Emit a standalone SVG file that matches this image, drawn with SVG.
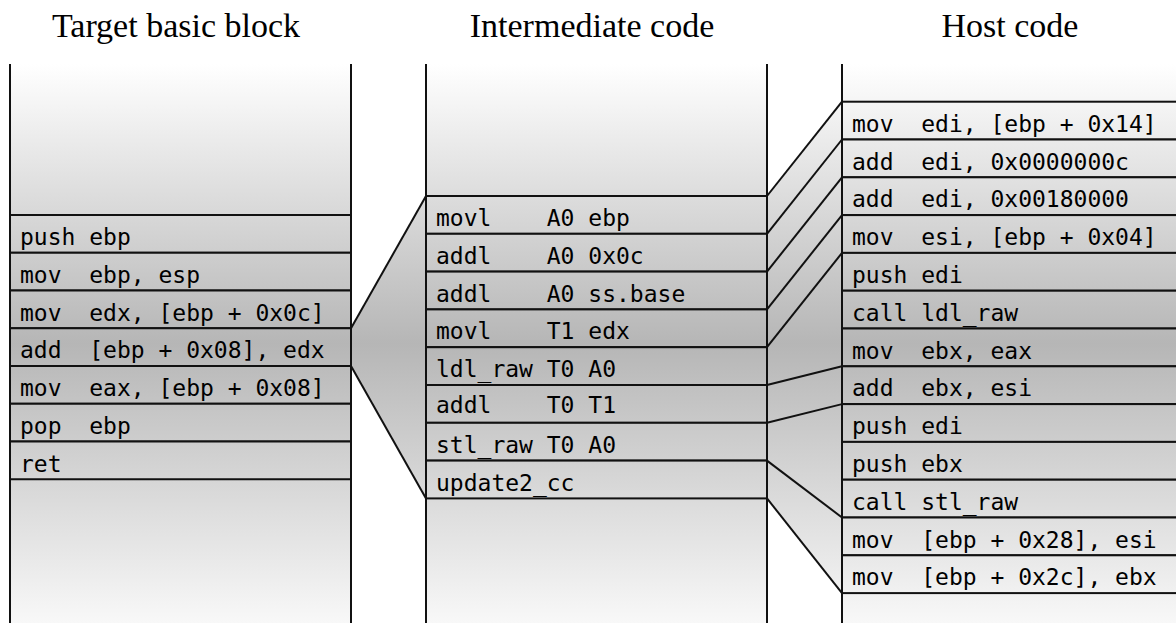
<svg xmlns="http://www.w3.org/2000/svg" width="1176" height="623" viewBox="0 0 1176 623">
<defs>
<linearGradient id="g" gradientUnits="userSpaceOnUse" x1="0" y1="64" x2="0" y2="623">
<stop offset="0" stop-color="#ffffff"/>
<stop offset="0.5" stop-color="#b6b6b6"/>
<stop offset="1" stop-color="#f8f8f8"/>
</linearGradient>
</defs>
<style>
.hdr{font-family:"Liberation Serif","DejaVu Serif",serif;font-size:34px;fill:#000;text-anchor:middle}
.code{font-family:"DejaVu Sans Mono","Liberation Mono",monospace;font-size:23px;fill:#000;white-space:pre}
.row{fill:url(#g);stroke:#111;stroke-width:2}
.col{fill:url(#g);stroke:none}
.vl{stroke:#111;stroke-width:2;fill:none}
.cn{stroke:#111;stroke-width:2;fill:none}
.reg{fill:url(#g);stroke:none}
</style>
<rect width="1176" height="623" fill="#ffffff"/>
<text class="hdr" x="176" y="37">Target basic block</text>
<text class="hdr" x="592" y="37">Intermediate code</text>
<text class="hdr" x="1010" y="37">Host code</text>

<g id="connectors">
<polygon class="reg" points="351,328.25 426,196 426,498.4 351,366"/>
<polygon class="reg" points="767,196 842,101.7 842,593.1 767,498.4"/>
<line class="cn" x1="351" y1="328.25" x2="426" y2="196"/>
<line class="cn" x1="351" y1="366" x2="426" y2="498.4"/>
<line class="cn" x1="767" y1="196" x2="842" y2="101.7"/>
<line class="cn" x1="767" y1="233.8" x2="842" y2="139.5"/>
<line class="cn" x1="767" y1="271.6" x2="842" y2="177.3"/>
<line class="cn" x1="767" y1="309.4" x2="842" y2="215.1"/>
<line class="cn" x1="767" y1="347.2" x2="842" y2="252.9"/>
<line class="cn" x1="767" y1="385" x2="842" y2="366.3"/>
<line class="cn" x1="767" y1="422.8" x2="842" y2="404.1"/>
<line class="cn" x1="767" y1="460.6" x2="842" y2="517.5"/>
<line class="cn" x1="767" y1="498.4" x2="842" y2="593.1"/>
</g>

<g id="target">
<rect class="col" x="10" y="64" width="341" height="559"/>
<g id="t1"><rect class="row" x="10" y="215" width="341" height="37.75"/><text class="code" x="20" y="245" xml:space="preserve">push ebp</text></g>
<g id="t2"><rect class="row" x="10" y="252.75" width="341" height="37.75"/><text class="code" x="20" y="282.75" xml:space="preserve">mov  ebp, esp</text></g>
<g id="t3"><rect class="row" x="10" y="290.5" width="341" height="37.75"/><text class="code" x="20" y="320.5" xml:space="preserve">mov  edx, [ebp + 0x0c]</text></g>
<g id="t4"><rect class="row" x="10" y="328.25" width="341" height="37.75"/><text class="code" x="20" y="358.25" xml:space="preserve">add  [ebp + 0x08], edx</text></g>
<g id="t5"><rect class="row" x="10" y="366" width="341" height="37.75"/><text class="code" x="20" y="396" xml:space="preserve">mov  eax, [ebp + 0x08]</text></g>
<g id="t6"><rect class="row" x="10" y="403.75" width="341" height="37.75"/><text class="code" x="20" y="433.75" xml:space="preserve">pop  ebp</text></g>
<g id="t7"><rect class="row" x="10" y="441.5" width="341" height="37.75"/><text class="code" x="20" y="471.5" xml:space="preserve">ret</text></g>
<line class="vl" x1="10" y1="64" x2="10" y2="623"/>
<line class="vl" x1="351" y1="64" x2="351" y2="623"/>
</g>

<g id="intermediate">
<rect class="col" x="426" y="64" width="341" height="559"/>
<g id="i1"><rect class="row" x="426" y="196" width="341" height="37.8"/><text class="code" x="436" y="226" xml:space="preserve">movl    A0 ebp</text></g>
<g id="i2"><rect class="row" x="426" y="233.8" width="341" height="37.8"/><text class="code" x="436" y="263.8" xml:space="preserve">addl    A0 0x0c</text></g>
<g id="i3"><rect class="row" x="426" y="271.6" width="341" height="37.8"/><text class="code" x="436" y="301.6" xml:space="preserve">addl    A0 ss.base</text></g>
<g id="i4"><rect class="row" x="426" y="309.4" width="341" height="37.8"/><text class="code" x="436" y="339.4" xml:space="preserve">movl    T1 edx</text></g>
<g id="i5"><rect class="row" x="426" y="347.2" width="341" height="37.8"/><text class="code" x="436" y="377.2" xml:space="preserve">ldl_raw T0 A0</text></g>
<g id="i6"><rect class="row" x="426" y="385" width="341" height="37.8"/><text class="code" x="436" y="413" xml:space="preserve">addl    T0 T1</text></g>
<g id="i7"><rect class="row" x="426" y="422.8" width="341" height="37.8"/><text class="code" x="436" y="452.8" xml:space="preserve">stl_raw T0 A0</text></g>
<g id="i8"><rect class="row" x="426" y="460.6" width="341" height="37.8"/><text class="code" x="436" y="490.6" xml:space="preserve">update2_cc</text></g>
<line class="vl" x1="426" y1="64" x2="426" y2="623"/>
<line class="vl" x1="767" y1="64" x2="767" y2="623"/>
</g>

<g id="host">
<rect class="col" x="842" y="64" width="334" height="559"/>
<g id="h1"><rect class="row" x="842" y="101.7" width="340" height="37.8"/><text class="code" x="852" y="131.7" xml:space="preserve">mov  edi, [ebp + 0x14]</text></g>
<g id="h2"><rect class="row" x="842" y="139.5" width="340" height="37.8"/><text class="code" x="852" y="169.5" xml:space="preserve">add  edi, 0x0000000c</text></g>
<g id="h3"><rect class="row" x="842" y="177.3" width="340" height="37.8"/><text class="code" x="852" y="207.3" xml:space="preserve">add  edi, 0x00180000</text></g>
<g id="h4"><rect class="row" x="842" y="215.1" width="340" height="37.8"/><text class="code" x="852" y="245.1" xml:space="preserve">mov  esi, [ebp + 0x04]</text></g>
<g id="h5"><rect class="row" x="842" y="252.9" width="340" height="37.8"/><text class="code" x="852" y="282.9" xml:space="preserve">push edi</text></g>
<g id="h6"><rect class="row" x="842" y="290.7" width="340" height="37.8"/><text class="code" x="852" y="320.7" xml:space="preserve">call ldl_raw</text></g>
<g id="h7"><rect class="row" x="842" y="328.5" width="340" height="37.8"/><text class="code" x="852" y="358.5" xml:space="preserve">mov  ebx, eax</text></g>
<g id="h8"><rect class="row" x="842" y="366.3" width="340" height="37.8"/><text class="code" x="852" y="396.3" xml:space="preserve">add  ebx, esi</text></g>
<g id="h9"><rect class="row" x="842" y="404.1" width="340" height="37.8"/><text class="code" x="852" y="434.1" xml:space="preserve">push edi</text></g>
<g id="h10"><rect class="row" x="842" y="441.9" width="340" height="37.8"/><text class="code" x="852" y="471.9" xml:space="preserve">push ebx</text></g>
<g id="h11"><rect class="row" x="842" y="479.7" width="340" height="37.8"/><text class="code" x="852" y="509.7" xml:space="preserve">call stl_raw</text></g>
<g id="h12"><rect class="row" x="842" y="517.5" width="340" height="37.8"/><text class="code" x="852" y="547.5" xml:space="preserve">mov  [ebp + 0x28], esi</text></g>
<g id="h13"><rect class="row" x="842" y="555.3" width="340" height="37.8"/><text class="code" x="852" y="585.3" xml:space="preserve">mov  [ebp + 0x2c], ebx</text></g>
<line class="vl" x1="842" y1="64" x2="842" y2="623"/>
</g>
</svg>
